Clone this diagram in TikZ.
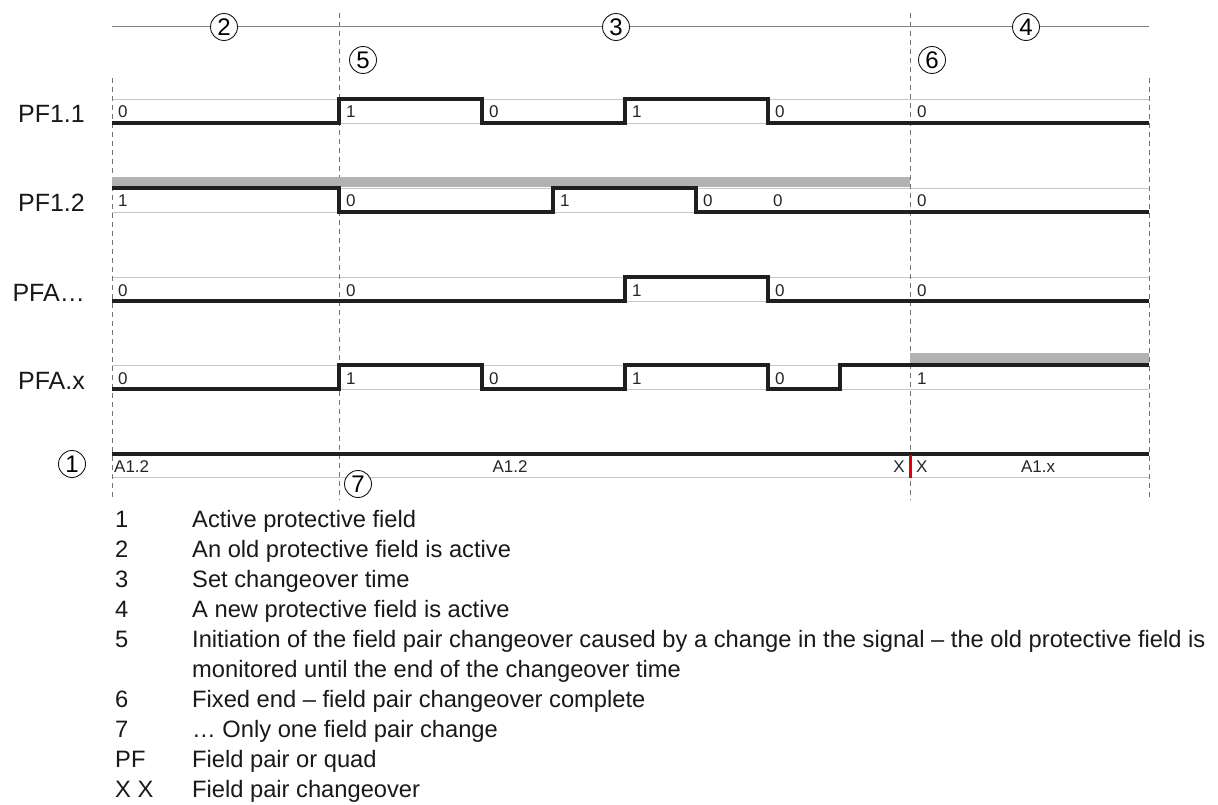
\documentclass[tikz,border=0pt]{standalone}
\usepackage{fontspec}
\setmainfont{Liberation Sans}
\begin{document}
\begin{tikzpicture}[x=1pt,y=-1pt,
 sig/.style={line width=3.2pt, draw=black!88, line join=miter},
 gridln/.style={line width=0.9pt, draw=black!22},
 vdash/.style={line width=0.9pt, draw=black!55, dash pattern=on 5pt off 4pt},
 topline/.style={line width=1pt, draw=black!50},
 band/.style={fill=black!30, draw=none},
 val/.style={font=\fontsize{17}{20}\selectfont, inner sep=0pt, anchor=base west, text=black!85},
 rowlbl/.style={font=\fontsize{25}{30}\selectfont, inner sep=0pt, anchor=base east, text=black!90},
 circ/.style={circle, draw=black!90, line width=0.9pt, fill=white, minimum size=27pt, inner sep=0pt, font=\fontsize{24}{26}\selectfont},
 leg/.style={font=\fontsize{23.7}{30}\selectfont, inner sep=0pt, anchor=base west, text=black!90},
]
\useasboundingbox[fill=white] (0,0) rectangle (1218,805);

% grid lines of the rows
\foreach \hy/\ly in {99/123,188/212,277/301,365/389,454/477}{
  \draw[gridln] (112,\hy) -- (1149,\hy);
  \draw[gridln] (112,\ly) -- (1149,\ly);
}
% time marks
\draw[vdash] (112,78) -- (112,500);
\draw[vdash] (339,13) -- (339,500);
\draw[vdash] (910,13) -- (910,500);
\draw[vdash] (1149,78) -- (1149,500);

% top time line
\draw[topline] (112,27) -- (1149,27);

% grey bands
\fill[band] (112,177) rectangle (910,187);
\fill[band] (910,353) rectangle (1149,363);

% signals
\draw[sig] (112,123) -- (339,123) -- (339,99) -- (482,99) -- (482,123) -- (625,123) -- (625,99) -- (768,99) -- (768,123) -- (1149,123);
\draw[sig] (112,188) -- (339,188) -- (339,212) -- (553,212) -- (553,188) -- (696,188) -- (696,212) -- (1149,212);
\draw[sig] (112,301) -- (625,301) -- (625,277) -- (768,277) -- (768,301) -- (1149,301);
\draw[sig] (112,389) -- (339,389) -- (339,365) -- (482,365) -- (482,389) -- (625,389) -- (625,365) -- (768,365) -- (768,389) -- (840,389) -- (840,365) -- (1149,365);
\draw[sig] (112,454) -- (1149,454);

% red changeover mark
\draw[line width=3pt, draw=red!90!black] (910,455) -- (910,478);

% row labels
\node[rowlbl] (lpf11) at (85,123) {PF1.1};
\node[rowlbl] (lpf12) at (85,212) {PF1.2};
\node[rowlbl] (lpfa) at (85,301) {PFA…};
\node[rowlbl] (lpfx) at (85,389) {PFA.x};

% values PF1.1
\node[val] (a1) at (118,118) {0};
\node[val] (a2) at (346,118) {1};
\node[val] (a3) at (489,118) {0};
\node[val] (a4) at (632,118) {1};
\node[val] (a5) at (775,118) {0};
\node[val] (a6) at (917,118) {0};
% values PF1.2
\node[val] (b1) at (118,207) {1};
\node[val] (b2) at (346,207) {0};
\node[val] (b3) at (560,207) {1};
\node[val] (b4) at (703,207) {0};
\node[val] (b5) at (773,207) {0};
\node[val] (b6) at (917,207) {0};
% values PFA...
\node[val] (c1) at (118,296) {0};
\node[val] (c2) at (346,296) {0};
\node[val] (c3) at (632,296) {1};
\node[val] (c4) at (775,296) {0};
\node[val] (c5) at (917,296) {0};
% values PFA.x
\node[val] (d1) at (118,384) {0};
\node[val] (d2) at (346,384) {1};
\node[val] (d3) at (489,384) {0};
\node[val] (d4) at (632,384) {1};
\node[val] (d5) at (775,384) {0};
\node[val] (d6) at (917,384) {1};
% active field row
\node[val] (e1) at (114,472) {A1.2};
\node[val, anchor=base] (e2) at (510,472) {A1.2};
\node[val, anchor=base east] (e3) at (905,472) {X};
\node[val] (e4) at (916,472) {X};
\node[val, anchor=base] (e5) at (1038,472) {A1.x};

% circled numbers
\node[circ] (n2) at (224,27) {2};
\node[circ] (n3) at (616,27) {3};
\node[circ] (n4) at (1026,27) {4};
\node[circ] (n5) at (363,60) {5};
\node[circ] (n6) at (932,60) {6};
\node[circ] (n1) at (72,464) {1};
\node[circ] (n7) at (358,484) {7};

% legend
\node[leg] (k1) at (115,527) {1};
\node[leg] (t1) at (192,527) {Active protective field};
\node[leg] (k2) at (115,557) {2};
\node[leg] (t2) at (192,557) {An old protective field is active};
\node[leg] (k3) at (115,587) {3};
\node[leg] (t3) at (192,587) {Set changeover time};
\node[leg] (k4) at (115,617) {4};
\node[leg] (t4) at (192,617) {A new protective field is active};
\node[leg] (k5) at (115,647) {5};
\node[leg] (t5) at (192,647) {Initiation of the field pair changeover caused by a change in the signal – the old protective field is};
\node[leg] (t5b) at (192,677) {monitored until the end of the changeover time};
\node[leg] (k6) at (115,707) {6};
\node[leg] (t6) at (192,707) {Fixed end – field pair changeover complete};
\node[leg] (k7) at (115,737) {7};
\node[leg] (t7) at (192,737) {… Only one field pair change};
\node[leg] (k8) at (115,767) {PF};
\node[leg] (t8) at (192,767) {Field pair or quad};
\node[leg] (k9) at (115,797) {X X};
\node[leg] (t9) at (192,797) {Field pair changeover};
\end{tikzpicture}
\end{document}
